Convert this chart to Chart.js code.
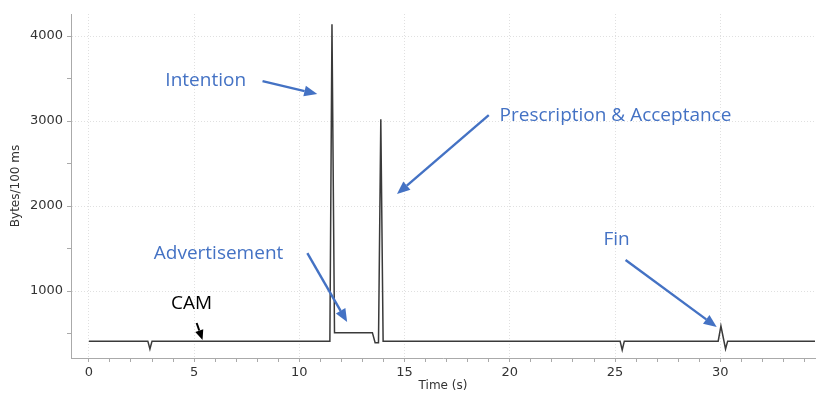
<!DOCTYPE html>
<html>
<head>
<meta charset="utf-8">
<title>Bytes/100 ms</title>
<script src="https://cdn.jsdelivr.net/npm/chart.js@4/dist/chart.umd.min.js"></script>
<style>
  html, body { margin: 0; padding: 0; background: #fff; }
  #trafic { display: block; }
</style>
</head>
<body>
<canvas id="trafic" width="830" height="405"></canvas>
<script>
// trace du débit (Bytes / 100 ms) en fonction du temps
const temps  = [0, 2.8, 2.9, 3.0, 11.45, 11.55, 11.67, 13.47, 13.6, 13.76, 13.87, 13.98, 25.24, 25.34, 25.44, 29.9, 30.03, 30.25, 30.35, 34.5];
const octets = [410, 410, 318, 410, 410, 4140, 510, 510, 392, 392, 3020, 410, 410, 306, 410, 410, 588, 318, 410, 410];

// graduations (les libellés ne sont mis que sur les majeures)
const xTicks = [0, 1, 2, 3, 4, 5, 6, 7, 8, 9, 10, 11, 12, 13, 14, 15, 16, 17, 18, 19, 20, 21, 22, 23, 24, 25, 26, 27, 28, 29, 30, 31, 32, 33, 34];
const xLabels = [0, 5, 10, 15, 20, 25, 30];
const yTicks = [500, 1000, 1500, 2000, 2500, 3000, 3500, 4000];
const yLabels = [1000, 2000, 3000, 4000];

// bornes des axes
const xMin = -0.85, xMax = 34.5;
const yMin = 212,   yMax = 4260;

// libellés annotés (position en unités de données)
const labelsTexte = ['Intention', 'Prescription & Acceptance', 'Advertisement', 'Fin', 'CAM'];
const labelsT     = [5.55, 25.02, 6.16, 25.07, 4.88];
const labelsY     = [3415, 3000, 1373, 1541, 788];
const labelsCoul  = ['#4472C4', '#4472C4', '#4472C4', '#4472C4', '#000000'];

// flèches : départ -> pointe
const flecheT0 = [8.25, 19.0, 10.38, 25.5, 5.12];
const flecheY0 = [3471, 3071, 1447, 1365, 624];
const flecheT1 = [10.85, 14.64, 12.27, 29.83, 5.40];
const flecheY1 = [3318, 2141, 635, 576, 424];

const points = temps.map((t, i) => ({ x: t, y: octets[i] }));

function dessinerFleche(ctx, x0, y0, x1, y1, coul, epais, tete) {
  const ang = Math.atan2(y1 - y0, x1 - x0);
  const bx = x1 - tete * Math.cos(ang);
  const by = y1 - tete * Math.sin(ang);
  ctx.strokeStyle = coul;
  ctx.fillStyle = coul;
  ctx.lineWidth = epais;
  ctx.beginPath();
  ctx.moveTo(x0, y0);
  ctx.lineTo(bx, by);
  ctx.stroke();
  const demi = tete * 0.42;
  ctx.beginPath();
  ctx.moveTo(x1, y1);
  ctx.lineTo(bx + demi * Math.sin(ang), by - demi * Math.cos(ang));
  ctx.lineTo(bx - demi * Math.sin(ang), by + demi * Math.cos(ang));
  ctx.closePath();
  ctx.fill();
}

const annotations = {
  id: 'annotations',
  afterDatasetsDraw(chart) {
    const { ctx, scales: { x, y } } = chart;
    ctx.save();
    ctx.font = '19px "Open Sans"';
    ctx.textAlign = 'center';
    ctx.textBaseline = 'alphabetic';
    labelsTexte.forEach((txt, i) => {
      ctx.fillStyle = labelsCoul[i];
      ctx.fillText(txt, x.getPixelForValue(labelsT[i]), y.getPixelForValue(labelsY[i]));
    });
    flecheT0.forEach((t0, i) => {
      const noir = labelsCoul[i] === '#000000';
      dessinerFleche(ctx,
        x.getPixelForValue(t0), y.getPixelForValue(flecheY0[i]),
        x.getPixelForValue(flecheT1[i]), y.getPixelForValue(flecheY1[i]),
        labelsCoul[i], noir ? 2 : 2.4, noir ? 10 : 13);
    });
    ctx.restore();
  }
};

new Chart(document.getElementById('trafic'), {
  type: 'line',
  data: {
    datasets: [{
      data: points,
      borderColor: '#3a3a3a',
      borderWidth: 1.5,
      pointRadius: 0,
      tension: 0,
      fill: false,
    }],
  },
  options: {
    responsive: false,
    animation: false,
    layout: { padding: { top: 14, right: 15, left: 0, bottom: 0 } },
    plugins: {
      legend: { display: false },
      tooltip: { enabled: false },
    },
    scales: {
      x: {
        type: 'linear',
        min: xMin,
        max: xMax,
        afterBuildTicks: (s) => { s.ticks = xTicks.map(v => ({ value: v })); },
        afterFit: (s) => { s.height = 47; },
        ticks: {
          autoSkip: false,
          maxRotation: 0,
          color: '#333',
          padding: 3,
          font: { family: 'DejaVu Sans', size: 13 },
          callback: (v) => (xLabels.includes(v) ? v : ''),
        },
        grid: {
          color: (c) => (c.tick && xLabels.includes(c.tick.value) ? '#e0e0e0' : 'rgba(0,0,0,0)'),
          tickColor: '#aaa',
          tickLength: 4,
          lineWidth: 1,
        },
        border: { color: '#aaa', width: 1, dash: [1, 2] },
        title: {
          display: true,
          text: 'Time (s)',
          color: '#333',
          font: { family: 'DejaVu Sans', size: 12 },
          padding: { top: 2, bottom: 12 },
        },
      },
      y: {
        min: yMin,
        max: yMax,
        afterBuildTicks: (s) => { s.ticks = yTicks.map(v => ({ value: v })); },
        afterFit: (s) => { s.width = 71; },
        ticks: {
          autoSkip: false,
          color: '#333',
          padding: 4,
          font: { family: 'DejaVu Sans', size: 13 },
          callback: (v) => (yLabels.includes(v) ? v : ''),
        },
        grid: {
          color: (c) => (c.tick && yLabels.includes(c.tick.value) ? '#e0e0e0' : 'rgba(0,0,0,0)'),
          tickColor: '#aaa',
          tickLength: 4,
          lineWidth: 1,
        },
        border: { color: '#aaa', width: 1, dash: [1, 2] },
        title: {
          display: true,
          text: 'Bytes/100 ms',
          color: '#333',
          font: { family: 'DejaVu Sans', size: 12 },
          padding: { top: 9, bottom: 4 },
        },
      },
    },
  },
  plugins: [annotations],
});
</script>
</body>
</html>
